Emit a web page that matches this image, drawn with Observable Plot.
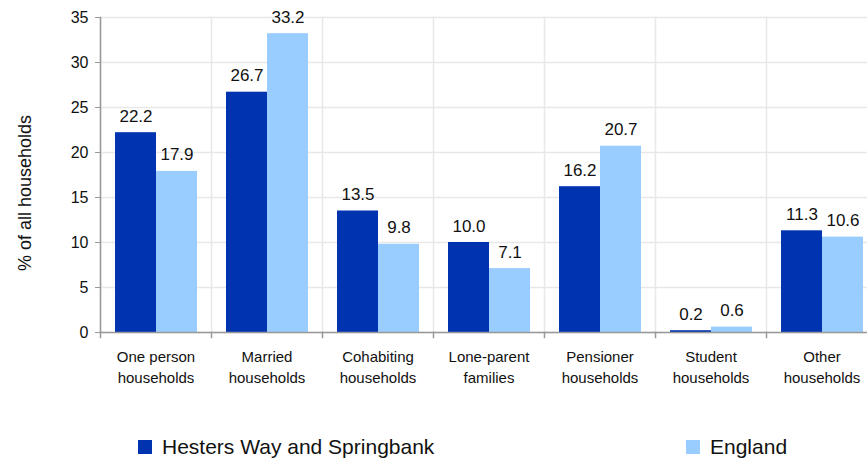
<!DOCTYPE html>
<html><head><meta charset="utf-8">
<script src="https://cdn.jsdelivr.net/npm/d3@7"></script>
<script src="https://cdn.jsdelivr.net/npm/@observablehq/plot@0.6"></script>
<style>
body{margin:0;background:#fff;font-family:"Liberation Sans",Arial,sans-serif;}
#wrap{width:867px;overflow:hidden;position:relative;}
#chart svg{max-width:none !important;}
#legend{position:relative;height:62px;}
.item{position:absolute;top:35px;height:24px;display:flex;align-items:center;font-size:21px;color:#111;white-space:nowrap;}
.sw{width:14px;height:14px;margin-right:10px;}
</style></head><body>
<div id="wrap"><div id="chart"></div><div id="legend"></div></div>
<script>
const categories = ["One person households","Married households","Cohabiting households","Lone-parent families","Pensioner households","Student households","Other households"];
const hesters = [22.2, 26.7, 13.5, 10.0, 16.2, 0.2, 11.3];
const england = [17.9, 33.2, 9.8, 7.1, 20.7, 0.6, 10.6];
const series = ["Hesters Way and Springbank","England"];
const colors = ["#0033B0","#99CCFF"];
const yTicks = [0,5,10,15,20,25,30,35];
const yLabel = "% of all households";
const legendLeft = [138, 686];

const rows = categories.flatMap((c,i)=>[
  {category:c, series:series[0], value:hesters[i]},
  {category:c, series:series[1], value:england[i]}
]);

const width=877, height=400, mt=17, mb=68, ml=100;
const plotH = height-mt-mb;
const splitLast = d => { const i = d.lastIndexOf(" "); return d.slice(0,i)+"\n"+d.slice(i+1); };

const chart = Plot.plot({
  width, height, marginTop:mt, marginBottom:mb, marginLeft:ml, marginRight:0,
  style:{fontFamily:"Liberation Sans, Arial, sans-serif", color:"#111", background:"transparent", maxWidth:"none"},
  fx:{domain:categories, padding:0, axis:null},
  x:{domain:series, paddingInner:0, paddingOuter:0.34, axis:null},
  y:{domain:[0,35], ticks:yTicks, axis:null},
  color:{domain:series, range:colors},
  marks:[
    Plot.gridY(yTicks,{stroke:"#e8e8e8", strokeOpacity:1, strokeWidth:1.5}),
    Plot.frame({anchor:"left", stroke:"#e8e8e8", strokeWidth:1.5}),
    Plot.barY(rows,{fx:"category", x:"series", y:"value", fill:"series"}),
    Plot.text(rows,{fx:"category", x:"series", y:"value", text:d=>d3.format(".1f")(d.value), lineAnchor:"bottom", dy:-11, fontSize:17, fill:"#111"}),
    Plot.ruleY([0],{stroke:"#999", strokeWidth:1.5}),
    Plot.frame({anchor:"left", stroke:"#999", strokeWidth:1.5, facetAnchor:"left"}),
    Plot.frame({anchor:"left", stroke:"#999", strokeWidth:1.5, insetTop:plotH, insetBottom:-5}),
    Plot.axisY(yTicks,{anchor:"left", tickSize:5, tickPadding:7, fontSize:16, stroke:"#999", fill:"#111", label:null}),
    Plot.axisFx({anchor:"bottom", tickSize:0, tickPadding:15, fontSize:15, lineHeight:1.4, tickFormat:splitLast, fill:"#111", label:null}),
    Plot.text([yLabel],{text:d=>d, frameAnchor:"left", textAnchor:"middle", lineAnchor:"middle", rotate:-90, dx:-75, dy:18, fontSize:18, fill:"#111", facetAnchor:"left"})
  ]
});
document.getElementById("chart").appendChild(chart);

const legend = document.getElementById("legend");
series.forEach((s,i)=>{
  const item = document.createElement("div");
  item.className = "item";
  item.style.left = legendLeft[i]+"px";
  const sw = document.createElement("div");
  sw.className = "sw";
  sw.style.background = colors[i];
  const t = document.createElement("span");
  t.textContent = s;
  item.appendChild(sw); item.appendChild(t);
  legend.appendChild(item);
});
</script>
</body></html>
